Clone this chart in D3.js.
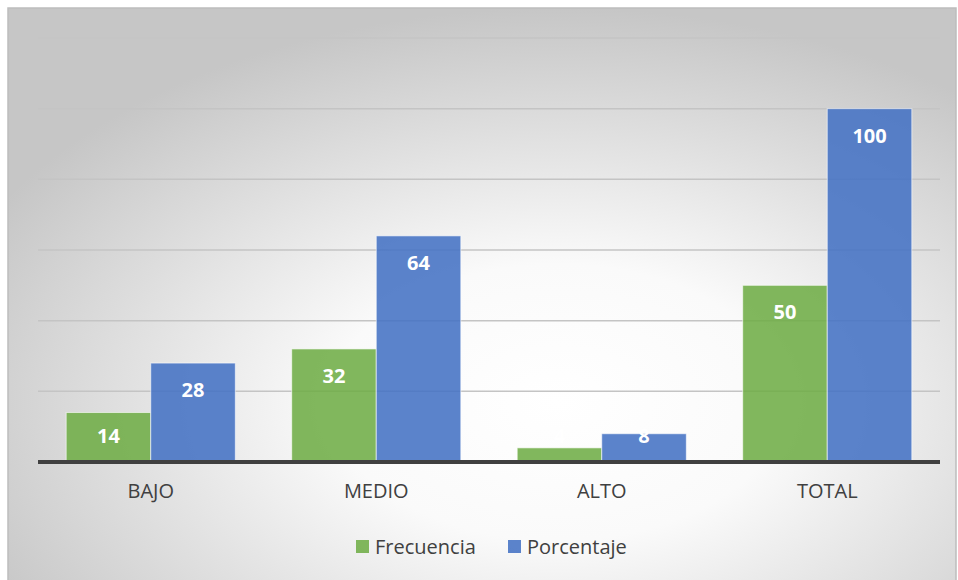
<!DOCTYPE html>
<html>
<head>
<meta charset="utf-8">
<script src="https://cdn.jsdelivr.net/npm/d3@7"></script>
<style>
  body { margin: 0; background: #fff; }
  svg { display: block; }
</style>
</head>
<body>
<svg id="chart" width="958" height="580"></svg>
<script>
// data
var categories = ["BAJO", "MEDIO", "ALTO", "TOTAL"];
var frecuencia = [14, 32, 4, 50];
var porcentaje = [28, 64, 8, 100];
var seriesNames = ["Frecuencia", "Porcentaje"];
var yTicks = [0, 20, 40, 60, 80, 100, 120];

var colors = ["#70ad47", "#4472c4"];
var font = "'Open Sans', 'Noto Sans', sans-serif";

var svg = d3.select("#chart");

// background: soft radial gradient inside the chart frame
var defs = svg.append("defs");
var grad = defs.append("radialGradient").attr("id", "bg")
    .attr("cx", "58%").attr("cy", "68%").attr("r", "68%");
grad.append("stop").attr("offset", "0%").attr("stop-color", "#ffffff");
grad.append("stop").attr("offset", "35%").attr("stop-color", "#fafafa");
grad.append("stop").attr("offset", "100%").attr("stop-color", "#c6c6c6");

svg.append("rect").attr("x", 8).attr("y", 8).attr("width", 948).attr("height", 580)
    .attr("fill", "url(#bg)").attr("stroke", "#bdbdbd").attr("stroke-width", 1.5);

var plotLeft = 38, plotRight = 940, plotTop = 38, plotBottom = 462;

var x0 = d3.scaleBand().domain(categories).range([plotLeft, plotRight]).paddingInner(0.25).paddingOuter(0.125);
var x1 = d3.scaleBand().domain(seriesNames).range([0, x0.bandwidth()]);
var y = d3.scaleLinear().domain([0, 120]).range([plotBottom, plotTop]);

// gridlines
svg.append("g").selectAll("line").data(yTicks.slice(1)).enter().append("line")
    .attr("x1", plotLeft).attr("x2", plotRight)
    .attr("y1", function(d){ return y(d); }).attr("y2", function(d){ return y(d); })
    .attr("stroke", "#c4c4c4").attr("stroke-width", 1.5);

var rows = categories.map(function(c, i){ return [frecuencia[i], porcentaje[i]]; });

var g = svg.append("g").selectAll("g").data(rows).enter().append("g")
    .attr("transform", function(d, i){ return "translate(" + x0(categories[i]) + ",0)"; });

g.selectAll("rect").data(function(d){ return d; }).enter().append("rect")
    .attr("x", function(d, i){ return x1(seriesNames[i]); })
    .attr("y", function(d){ return y(d); })
    .attr("width", x1.bandwidth())
    .attr("height", function(d){ return y(0) - y(d); })
    .attr("fill", function(d, i){ return colors[i]; })
    .attr("fill-opacity", 0.88)
    .attr("stroke", "#ffffff").attr("stroke-opacity", 0.6).attr("stroke-width", 1);

// data labels, white bold, inside end
g.selectAll("text").data(function(d){ return d; }).enter().append("text")
    .attr("x", function(d, i){ return x1(seriesNames[i]) + x1.bandwidth() / 2; })
    .attr("y", function(d){ return Math.min(y(d) + 27, y(0) - 26); })
    .attr("dy", "0.35em")
    .attr("text-anchor", "middle")
    .attr("font-family", font).attr("font-weight", "bold").attr("font-size", 20)
    .attr("fill", "#ffffff")
    .text(function(d){ return d; });

// baseline
svg.append("line").attr("x1", plotLeft).attr("x2", plotRight).attr("y1", y(0)).attr("y2", y(0))
    .attr("stroke", "#404040").attr("stroke-width", 4);

// category axis
var xAxis = svg.append("g").attr("transform", "translate(0," + (y(0) + 2) + ")")
    .call(d3.axisBottom(x0).tickSize(0).tickPadding(20));
xAxis.select(".domain").remove();
xAxis.selectAll("text").attr("font-family", font).attr("font-size", 20).attr("fill", "#404040");

// legend
var legend = svg.append("g");
var lx = [356, 508];
seriesNames.forEach(function(s, i){
    legend.append("rect").attr("x", lx[i]).attr("y", 540).attr("width", 13).attr("height", 13)
        .attr("fill", colors[i]).attr("fill-opacity", 0.88);
    legend.append("text").attr("x", lx[i] + 19).attr("y", 547).attr("dy", "0.35em")
        .attr("font-family", font).attr("font-size", 20).attr("fill", "#404040").text(s);
});
</script>
</body>
</html>
